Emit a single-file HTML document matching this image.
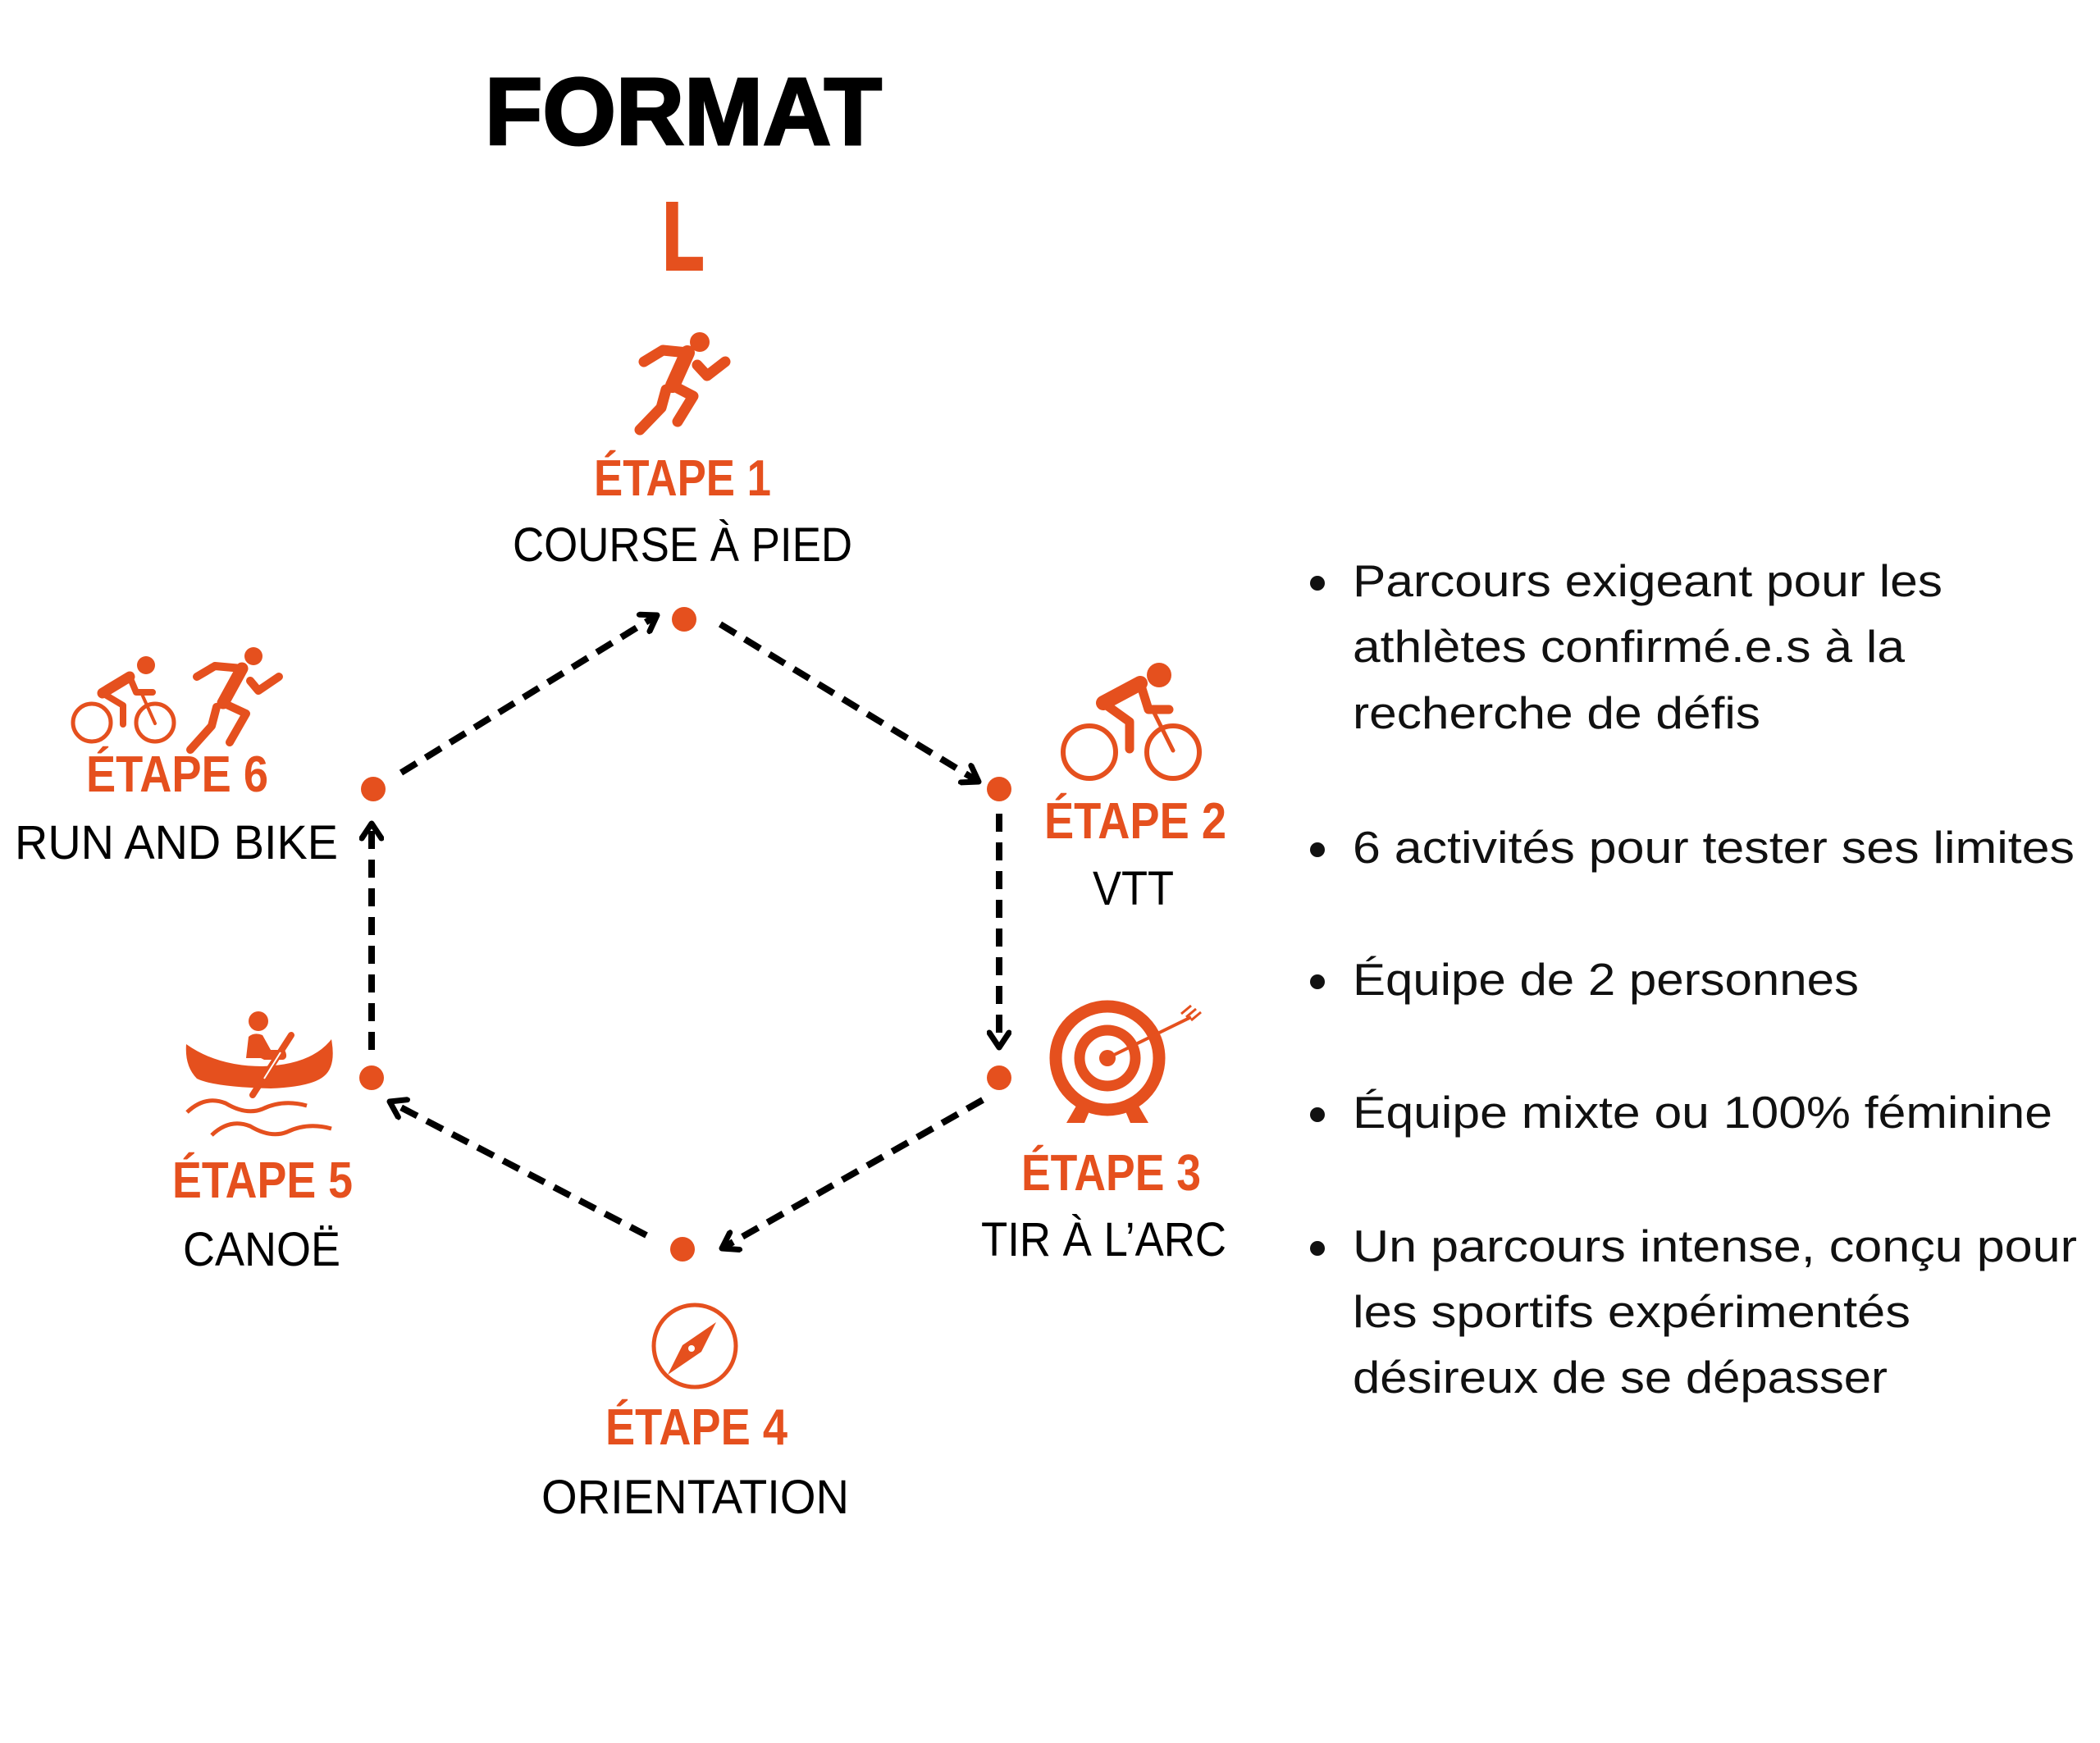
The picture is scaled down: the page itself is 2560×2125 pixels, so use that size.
<!DOCTYPE html>
<html><head><meta charset="utf-8"><style>
html,body{margin:0;padding:0;background:#fff;width:2560px;height:2125px;overflow:hidden}
svg{display:block}
.o{fill:#E5501E;font-family:"Liberation Sans",sans-serif;font-weight:bold;font-size:62px}
.b{fill:#000;font-family:"Liberation Sans",sans-serif;font-size:58px}
.t{fill:#111;font-family:"Liberation Sans",sans-serif;font-size:55px}
</style></head><body>
<svg width="2560" height="2125" viewBox="0 0 2560 2125" xmlns="http://www.w3.org/2000/svg">
<defs>
<marker id="ah" viewBox="0 0 30 30" refX="24" refY="15" markerWidth="30" markerHeight="30" markerUnits="userSpaceOnUse" orient="auto">
<path d="M6 3 L24 15 L6 27" fill="none" stroke="#000" stroke-width="7" stroke-linecap="round" stroke-linejoin="round"/>
</marker>
</defs>
<text x="591" y="176" textLength="484" lengthAdjust="spacingAndGlyphs" style="font-family:'Liberation Sans',sans-serif;font-weight:bold;font-size:116px" stroke="#000" stroke-width="3">FORMAT</text>
<text x="808" y="328" textLength="50" lengthAdjust="spacingAndGlyphs" style="font-family:'Liberation Sans',sans-serif;font-weight:bold;font-size:116px;fill:#E5501E" stroke="#E5501E" stroke-width="4">L</text>

<g stroke="#000" stroke-width="8" fill="none" stroke-dasharray="22 13" marker-end="url(#ah)">
<line x1="489" y1="942" x2="801" y2="750"/>
<line x1="878" y1="761" x2="1193" y2="953"/>
<line x1="1218" y1="992" x2="1218" y2="1277"/>
<line x1="1198" y1="1341" x2="880" y2="1522"/>
<line x1="788" y1="1506" x2="475" y2="1343"/>
<line x1="453" y1="1280" x2="453" y2="1004"/>
</g>
<g fill="#E5501E">
<circle cx="834" cy="755" r="15"/><circle cx="1218" cy="962" r="15"/><circle cx="1218" cy="1314" r="15"/>
<circle cx="832" cy="1523" r="15"/><circle cx="453" cy="1314" r="15"/><circle cx="455" cy="962" r="15"/>
</g>

<g stroke="#E5501E" stroke-width="13" stroke-linecap="round" stroke-linejoin="round" fill="none">
<circle cx="853" cy="417" r="12" fill="#E5501E" stroke="none"/>
<polyline points="785,441 808,427 838,430"/>
<polyline points="838,430 820,470" stroke-width="18"/>
<polyline points="850,445 862,458 884,441"/>
<polyline points="820,470 845,483 826,514"/>
<polyline points="812,475 806,497 780,524"/>
</g>
<g stroke="#E5501E" stroke-linecap="round" stroke-linejoin="round" fill="none">
<circle cx="1413" cy="823" r="15" fill="#E5501E" stroke="none"/>
<circle cx="1328" cy="917" r="32" stroke-width="6"/>
<circle cx="1430" cy="917" r="32" stroke-width="6"/>
<polyline points="1345,857 1390,833" stroke-width="18"/>
<polyline points="1345,857 1377,880 1377,913" stroke-width="11"/>
<polyline points="1390,833 1400,865 1425,865" stroke-width="11"/>
<polyline points="1405,865 1430,915" stroke-width="5"/>
</g>
<g stroke="#E5501E" stroke-linecap="round" stroke-linejoin="round" fill="none">
<circle cx="178" cy="811" r="11" fill="#E5501E" stroke="none"/>
<circle cx="112" cy="881" r="23" stroke-width="5"/>
<circle cx="189" cy="881" r="23" stroke-width="5"/>
<polyline points="125,845 158,825" stroke-width="13"/>
<polyline points="125,845 150,860 150,883" stroke-width="8"/>
<polyline points="158,825 166,844 186,844" stroke-width="8"/>
<polyline points="172,844 189,882" stroke-width="4"/>
<g stroke-width="10">
<circle cx="309" cy="800" r="11" fill="#E5501E" stroke="none"/>
<polyline points="240,825 262,812 295,815"/>
<polyline points="295,815 272,857" stroke-width="15"/>
<polyline points="305,830 315,842 340,825"/>
<polyline points="272,857 300,870 280,905"/>
<polyline points="264,862 258,885 232,914"/>
</g>
</g>
<g fill="none" stroke="#E5501E">
<circle cx="1350" cy="1290" r="63" stroke-width="15"/>
<circle cx="1350" cy="1290" r="34" stroke-width="13"/>
<circle cx="1350" cy="1290" r="10" fill="#E5501E" stroke="none"/>
<line x1="1352" y1="1289" x2="1452" y2="1240" stroke-width="4"/>
<path d="M1440 1236 l12 -10 M1446 1240 l12 -10 M1452 1244 l12 -10" stroke-width="3"/>
</g>
<path d="M1300 1369 L1315 1343 L1330 1350 L1322 1369 Z M1400 1369 L1385 1343 L1370 1350 L1378 1369 Z" fill="#E5501E"/>
<circle cx="847" cy="1641" r="50" fill="none" stroke="#E5501E" stroke-width="5"/>
<path d="M873 1612 L855 1648 L814 1676 L832 1640 Z" fill="#E5501E"/>
<circle cx="843" cy="1644" r="4" fill="#fff"/>
<g fill="#E5501E">
<circle cx="315" cy="1245" r="12"/>
<path d="M227 1273 Q265 1300 320 1300 Q380 1298 404 1267 Q410 1300 395 1312 Q380 1325 330 1327 Q260 1325 240 1315 Q225 1300 227 1273 Z"/>
<path d="M303 1264 Q310 1258 320 1262 L330 1280 L347 1280 Q352 1290 345 1292 L322 1292 L318 1290 L300 1290 Z"/>
</g>
<line x1="355" y1="1262" x2="308" y2="1335" stroke="#E5501E" stroke-width="8" stroke-linecap="round"/>
<line x1="342" y1="1283" x2="322" y2="1315" stroke="#fff" stroke-width="2"/>
<path d="M228 1356 Q250 1335 275 1345 Q300 1360 320 1352 Q345 1340 374 1348" fill="none" stroke="#E5501E" stroke-width="5"/>
<path d="M258 1384 Q280 1363 305 1373 Q330 1388 350 1380 Q375 1368 404 1376" fill="none" stroke="#E5501E" stroke-width="5"/>

<text class="o" x="724" y="604" textLength="216" lengthAdjust="spacingAndGlyphs">ÉTAPE 1</text>
<text class="b" x="625" y="684" textLength="414" lengthAdjust="spacingAndGlyphs">COURSE À PIED</text>
<text class="o" x="1273" y="1022" textLength="222" lengthAdjust="spacingAndGlyphs">ÉTAPE 2</text>
<text class="b" x="1332" y="1103" textLength="99" lengthAdjust="spacingAndGlyphs">VTT</text>
<text class="o" x="1245" y="1451" textLength="219" lengthAdjust="spacingAndGlyphs">ÉTAPE 3</text>
<text class="b" x="1196" y="1531" textLength="299" lengthAdjust="spacingAndGlyphs">TIR À L’ARC</text>
<text class="o" x="738" y="1761" textLength="222" lengthAdjust="spacingAndGlyphs">ÉTAPE 4</text>
<text class="b" x="660" y="1845" textLength="375" lengthAdjust="spacingAndGlyphs">ORIENTATION</text>
<text class="o" x="210" y="1460" textLength="220" lengthAdjust="spacingAndGlyphs">ÉTAPE 5</text>
<text class="b" x="223" y="1543" textLength="192" lengthAdjust="spacingAndGlyphs">CANOË</text>
<text class="o" x="105" y="965" textLength="222" lengthAdjust="spacingAndGlyphs">ÉTAPE 6</text>
<text class="b" x="18" y="1047" textLength="394" lengthAdjust="spacingAndGlyphs">RUN AND BIKE</text>

<g fill="#111">
<circle cx="1606" cy="711" r="9"/><circle cx="1606" cy="1036" r="9"/><circle cx="1606" cy="1197" r="9"/>
<circle cx="1606" cy="1359" r="9"/><circle cx="1606" cy="1522" r="9"/>
</g>
<text class="t" x="1649" y="727" textLength="719" lengthAdjust="spacingAndGlyphs">Parcours exigeant pour les</text>
<text class="t" x="1649" y="807" textLength="673" lengthAdjust="spacingAndGlyphs">athlètes confirmé.e.s à la</text>
<text class="t" x="1649" y="888" textLength="497" lengthAdjust="spacingAndGlyphs">recherche de défis</text>
<text class="t" x="1649" y="1052" textLength="880" lengthAdjust="spacingAndGlyphs">6 activités pour tester ses limites</text>
<text class="t" x="1649" y="1213" textLength="617" lengthAdjust="spacingAndGlyphs">Équipe de 2 personnes</text>
<text class="t" x="1649" y="1375" textLength="853" lengthAdjust="spacingAndGlyphs">Équipe mixte ou 100% féminine</text>
<text class="t" x="1649" y="1538" textLength="883" lengthAdjust="spacingAndGlyphs">Un parcours intense, conçu pour</text>
<text class="t" x="1649" y="1618" textLength="680" lengthAdjust="spacingAndGlyphs">les sportifs expérimentés</text>
<text class="t" x="1649" y="1698" textLength="652" lengthAdjust="spacingAndGlyphs">désireux de se dépasser</text>
</svg>
</body></html>
